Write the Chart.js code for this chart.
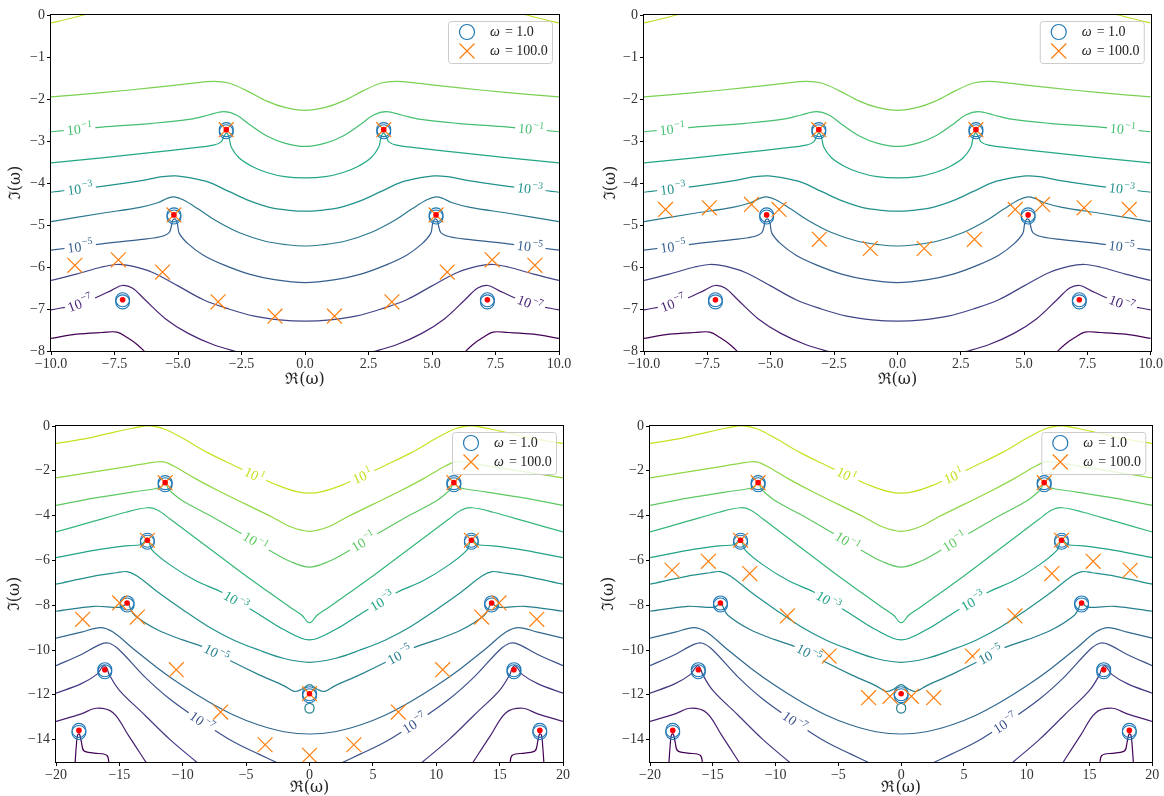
<!DOCTYPE html>
<html>
<head>
<meta charset="utf-8">
<script src="https://cdn.jsdelivr.net/npm/chart.js"></script>
<style>
  body { margin: 0; background: #fff; }
  #fig { position: relative; width: 1164px; height: 796px; }
  canvas { position: absolute; }
</style>
</head>
<body>
<div id="fig">
  <canvas id="p1" width="582" height="400" style="left:0px;top:0px"></canvas>
  <canvas id="p2" width="582" height="400" style="left:582px;top:0px"></canvas>
  <canvas id="p3" width="582" height="396" style="left:0px;top:400px"></canvas>
  <canvas id="p4" width="582" height="396" style="left:582px;top:400px"></canvas>
</div>
<script>
// ---- ticks ----
const narrowXTicks = [-10, -7.5, -5, -2.5, 0, 2.5, 5, 7.5, 10];
const narrowYTicks = [0, -1, -2, -3, -4, -5, -6, -7, -8];
const wideXTicks = [-20, -15, -10, -5, 0, 5, 10, 15, 20];
const wideYTicks = [0, -2, -4, -6, -8, -10, -12, -14];

// ---- contour levels (powers of ten) for the narrow window, Re in [-10, 10] ----
const narrowLevels = [1, 0, -1, -2, -3, -4, -5, -6, -7, -8];
const nE1 = [
  [[-10,-0.19],[-9.3,-0.09],[-8.6,0.02]],
  [[8.6,0.02],[9.3,-0.09],[10,-0.19]]
];
const nE0 = [[[-10,-1.95],[-8,-1.85],[-6,-1.73],[-4.5,-1.63],[-3.6,-1.58],[-3,-1.62],[-2.3,-1.8],[-1.5,-2.05],[-0.8,-2.2],[0,-2.27],[0.8,-2.2],[1.5,-2.05],[2.3,-1.8],[3,-1.62],[3.6,-1.58],[4.5,-1.63],[6,-1.73],[8,-1.85],[10,-1.95]]];
const nEm1 = [[[-10,-2.78],[-8,-2.67],[-6,-2.58],[-4.5,-2.48],[-3.8,-2.38],[-3.2,-2.3],[-2.7,-2.38],[-2.2,-2.6],[-1.5,-2.88],[-0.8,-3.05],[0,-3.13],[0.8,-3.05],[1.5,-2.88],[2.2,-2.6],[2.7,-2.38],[3.2,-2.3],[3.8,-2.38],[4.5,-2.48],[6,-2.58],[8,-2.67],[10,-2.78]]];
const nEm2 = [[[-10,-3.52],[-8,-3.4],[-6,-3.27],[-4.5,-3.17],[-3.6,-3.1],[-3.3,-3.02],[-3.2,-2.9],[-3.12,-2.82],[-3.04,-2.84],[-2.98,-2.95],[-2.9,-3.15],[-2.6,-3.4],[-2.1,-3.6],[-1.5,-3.75],[-0.8,-3.85],[0,-3.88],[0.8,-3.85],[1.5,-3.75],[2.1,-3.6],[2.6,-3.4],[2.9,-3.15],[2.98,-2.95],[3.04,-2.84],[3.12,-2.82],[3.2,-2.9],[3.3,-3.02],[3.6,-3.1],[4.5,-3.17],[6,-3.27],[8,-3.4],[10,-3.52]]];
const nEm3 = [[[-10,-4.22],[-8,-4.08],[-6.5,-3.95],[-5.6,-3.85],[-5.1,-3.83],[-4.5,-3.88],[-3.8,-3.98],[-3,-4.2],[-2.2,-4.42],[-1.4,-4.58],[-0.6,-4.65],[0,-4.67],[0.6,-4.65],[1.4,-4.58],[2.2,-4.42],[3,-4.2],[3.8,-3.98],[4.5,-3.88],[5.1,-3.83],[5.6,-3.85],[6.5,-3.95],[8,-4.08],[10,-4.22]]];
const nEm4 = [[[-10,-4.92],[-8,-4.72],[-6.5,-4.58],[-5.8,-4.47],[-5.4,-4.36],[-5.15,-4.33],[-4.8,-4.4],[-4.2,-4.62],[-3.5,-4.9],[-2.6,-5.18],[-1.6,-5.38],[-0.7,-5.47],[0,-5.5],[0.7,-5.47],[1.6,-5.38],[2.6,-5.18],[3.5,-4.9],[4.2,-4.62],[4.8,-4.4],[5.15,-4.33],[5.4,-4.36],[5.8,-4.47],[6.5,-4.58],[8,-4.72],[10,-4.92]]];
const nEm5 = [[[-10,-5.6],[-8,-5.45],[-6.5,-5.35],[-5.7,-5.28],[-5.35,-5.18],[-5.25,-5.0],[-5.2,-4.88],[-5.1,-4.86],[-5.02,-4.98],[-4.95,-5.2],[-4.6,-5.45],[-4,-5.72],[-3.2,-5.95],[-2.2,-6.17],[-1.2,-6.3],[0,-6.37],[1.2,-6.3],[2.2,-6.17],[3.2,-5.95],[4,-5.72],[4.6,-5.45],[4.95,-5.2],[5.02,-4.98],[5.1,-4.86],[5.2,-4.88],[5.25,-5.0],[5.35,-5.18],[5.7,-5.28],[6.5,-5.35],[8,-5.45],[10,-5.6]]];
const nEm6 = [[[-10,-6.32],[-9,-6.17],[-8,-6.0],[-7.4,-5.94],[-6.8,-5.98],[-6,-6.13],[-5,-6.45],[-4,-6.78],[-3,-7.0],[-2,-7.17],[-1,-7.26],[0,-7.29],[1,-7.26],[2,-7.17],[3,-7.0],[4,-6.78],[5,-6.45],[6,-6.13],[6.8,-5.98],[7.4,-5.94],[8,-6.0],[9,-6.17],[10,-6.32]]];
const nEm7 = [
  [[-10,-7.02],[-9,-6.9],[-8.2,-6.72],[-7.6,-6.55],[-7.2,-6.44],[-6.8,-6.5],[-6.3,-6.78],[-5.5,-7.23],[-4.6,-7.58],[-3.6,-7.85],[-2.5,-8.05]],
  [[2.5,-8.05],[3.6,-7.85],[4.6,-7.58],[5.5,-7.23],[6.3,-6.78],[6.8,-6.5],[7.2,-6.44],[7.6,-6.55],[8.2,-6.72],[9,-6.9],[10,-7.02]]
];
const nEm8 = [
  [[-10,-7.7],[-9,-7.6],[-8,-7.56],[-7.4,-7.55],[-7.0,-7.68],[-6.6,-7.85],[-6.25,-8.05]],
  [[6.25,-8.05],[6.6,-7.85],[7.0,-7.68],[7.4,-7.55],[8,-7.56],[9,-7.6],[10,-7.7]]
];
const narrowLines = [nE1, nE0, nEm1, nEm2, nEm3, nEm4, nEm5, nEm6, nEm7, nEm8];
// inline labels: [x, y, exponent]
const narrowLabelSpots = [[-8.88,-2.7,-1],[8.9,-2.7,-1],[-8.86,-4.11,-3],[8.86,-4.11,-3],[-8.86,-5.47,-5],[8.86,-5.47,-5],[-8.86,-6.85,-7],[8.86,-6.85,-7]];

// ---- contour levels for the wide window, Re in [-20, 20] ----
const wideLevels = [1, 0, -1, -2, -3, -4, -5, -6, -7, -8, -9, -10];
const wE1 = [[[-20,-0.78],[-18,-0.6],[-16,-0.35],[-14,-0.1],[-12.7,0.02],[-11.5,-0.12],[-10,-0.55],[-8,-1.2],[-6,-1.75],[-4.3,-2.2],[-2.5,-2.65],[-1,-2.93],[0,-3.0],[1,-2.93],[2.5,-2.65],[4.3,-2.2],[6,-1.75],[8,-1.2],[10,-0.55],[11.5,-0.12],[12.7,0.02],[14,-0.1],[16,-0.35],[18,-0.6],[20,-0.78]]];
const wE0 = [[[-20,-2.32],[-17,-2.05],[-14,-1.78],[-12.3,-1.62],[-11.5,-1.6],[-10.5,-1.85],[-9,-2.35],[-7,-2.95],[-5,-3.5],[-3,-4.05],[-1.5,-4.5],[0,-4.7],[1.5,-4.5],[3,-4.05],[5,-3.5],[7,-2.95],[9,-2.35],[10.5,-1.85],[11.5,-1.6],[12.3,-1.62],[14,-1.78],[17,-2.05],[20,-2.32]]];
const wEm1 = [[[-20,-3.54],[-17,-3.22],[-14,-2.95],[-12.2,-2.8],[-11.7,-2.72],[-11.55,-2.6],[-11.42,-2.55],[-11.28,-2.62],[-11.15,-2.8],[-10.8,-3.0],[-10,-3.35],[-8,-3.95],[-6,-4.6],[-4.3,-5.15],[-3,-5.6],[-1.5,-6.05],[0,-6.3],[1.5,-6.05],[3,-5.6],[4.3,-5.15],[6,-4.6],[8,-3.95],[10,-3.35],[10.8,-3.0],[11.15,-2.8],[11.28,-2.62],[11.42,-2.55],[11.55,-2.6],[11.7,-2.72],[12.2,-2.8],[14,-2.95],[17,-3.22],[20,-3.54]]];
const wEm2 = [[[-20,-4.73],[-17,-4.25],[-14.5,-3.85],[-12.8,-3.65],[-12,-3.75],[-11,-4.15],[-9,-5.0],[-7,-5.85],[-5,-6.7],[-3,-7.5],[-1.5,-8.1],[-0.6,-8.45],[-0.2,-8.72],[0,-8.78],[0.2,-8.72],[0.6,-8.45],[1.5,-8.1],[3,-7.5],[5,-6.7],[7,-5.85],[9,-5.0],[11,-4.15],[12,-3.75],[12.8,-3.65],[14.5,-3.85],[17,-4.25],[20,-4.73]]];
const wEm3 = [[[-20,-5.88],[-17,-5.55],[-14.5,-5.35],[-13.3,-5.3],[-13.0,-5.15],[-12.9,-5.02],[-12.75,-5.02],[-12.65,-5.2],[-12.4,-5.55],[-11,-6.2],[-9,-6.9],[-7,-7.4],[-5.8,-7.8],[-4,-8.4],[-2,-9.1],[0,-9.55],[2,-9.1],[4,-8.4],[5.8,-7.8],[7,-7.4],[9,-6.9],[11,-6.2],[12.4,-5.55],[12.65,-5.2],[12.75,-5.02],[12.9,-5.02],[13.0,-5.15],[13.3,-5.3],[14.5,-5.35],[17,-5.55],[20,-5.88]]];
const wEm4 = [[[-20,-7.06],[-17,-6.7],[-15.2,-6.55],[-14.4,-6.5],[-13.6,-6.7],[-12,-7.4],[-10,-8.2],[-8,-8.95],[-6,-9.55],[-4,-10.0],[-2,-10.38],[0,-10.55],[2,-10.38],[4,-10.0],[6,-9.55],[8,-8.95],[10,-8.2],[12,-7.4],[13.6,-6.7],[14.4,-6.5],[15.2,-6.55],[17,-6.7],[20,-7.06]]];
const wEm5 = [[[-20,-8.27],[-17,-8.05],[-15,-8.1],[-14.6,-8.0],[-14.45,-7.85],[-14.3,-7.85],[-14.2,-8.05],[-13.8,-8.45],[-12,-9.1],[-10,-9.55],[-8,-9.95],[-6,-10.55],[-4,-11.1],[-2,-11.6],[-1.2,-11.85],[-0.6,-11.75],[0,-11.55],[0.6,-11.75],[1.2,-11.85],[2,-11.6],[4,-11.1],[6,-10.55],[8,-9.95],[10,-9.55],[12,-9.1],[13.8,-8.45],[14.2,-8.05],[14.3,-7.85],[14.45,-7.85],[14.6,-8.0],[15,-8.1],[17,-8.05],[20,-8.27]]];
const wEm6 = [[[-20,-9.47],[-18,-9.2],[-16.5,-9.0],[-15.5,-9.2],[-14,-9.9],[-12,-10.8],[-10,-11.6],[-8,-12.3],[-6,-12.9],[-4,-13.35],[-2,-13.65],[0,-13.75],[2,-13.65],[4,-13.35],[6,-12.9],[8,-12.3],[10,-11.6],[12,-10.8],[14,-9.9],[15.5,-9.2],[16.5,-9.0],[18,-9.2],[20,-9.47]]];
const wEm7 = [
  [[-20,-10.7],[-18,-10.2],[-16.5,-9.75],[-15.8,-9.7],[-15,-10.0],[-13,-11.2],[-11,-12.2],[-8.5,-13.2],[-6,-14.1],[-4,-14.65],[-2.3,-15.1]],
  [[2.3,-15.1],[4,-14.65],[6,-14.1],[8.5,-13.2],[11,-12.2],[13,-11.2],[15,-10.0],[15.8,-9.7],[16.5,-9.75],[18,-10.2],[20,-10.7]]
];
const wEm8 = [
  [[-20,-11.93],[-18,-11.5],[-16.8,-11.1],[-16.4,-10.8],[-16.2,-10.7],[-16.0,-10.8],[-15.8,-11.1],[-15,-11.8],[-13,-12.9],[-11,-14.0],[-8.7,-15.1]],
  [[8.7,-15.1],[11,-14.0],[13,-12.9],[15,-11.8],[15.8,-11.1],[16.0,-10.8],[16.2,-10.7],[16.4,-10.8],[16.8,-11.1],[18,-11.5],[20,-11.93]]
];
const wEm9 = [
  [[-20,-13.19],[-18,-12.85],[-16.8,-12.6],[-15.5,-12.8],[-14.3,-13.8],[-12.8,-15.1]],
  [[12.8,-15.1],[14.3,-13.8],[15.5,-12.8],[16.8,-12.6],[18,-12.85],[20,-13.19]]
];
const wEm10 = [
  [[-18.5,-15.1],[-18.4,-14.3],[-18.3,-13.8],[-18.15,-13.75],[-18.0,-14.1],[-17.8,-14.5],[-17,-14.6],[-16,-14.7],[-15.8,-15.1]],
  [[15.8,-15.1],[16,-14.7],[17,-14.6],[17.8,-14.5],[18.0,-14.1],[18.15,-13.75],[18.3,-13.8],[18.4,-14.3],[18.5,-15.1]]
];
// small closed loop below the centre root
const wLoop = [[[0,-12.38],[0.28,-12.45],[0.36,-12.6],[0.28,-12.75],[0,-12.82],[-0.28,-12.75],[-0.36,-12.6],[-0.28,-12.45],[0,-12.38]]];
const wideLines = [wE1, wE0, wEm1, wEm2, wEm3, wEm4, wEm5.concat(wLoop), wEm6, wEm7, wEm8, wEm9, wEm10];
const wideLabelSpots = [[-4.3,-2.12,1],[4.1,-2.13,1],[-4.3,-5.17,-1],[4.3,-5.2,-1],[-5.8,-7.8,-3],[5.7,-7.8,-3],[-7.4,-10.2,-5],[7.2,-10.3,-5],[-8.5,-13.2,-7],[8.2,-13.2,-7]];

// ---- marked roots ----
const narrowPoles = [[-3.1,-2.73],[3.1,-2.73],[-5.16,-4.76],[5.16,-4.76],[-7.18,-6.78],[7.18,-6.78]];
// omega = 1.0 roots come in close pairs
const narrowOmega1 = [[-3.1,-2.73],[3.1,-2.73],[-5.16,-4.76],[5.16,-4.76],[-7.18,-6.78],[7.18,-6.78],
                      [-3.1,-2.78],[3.1,-2.78],[-5.16,-4.81],[5.16,-4.81],[-7.18,-6.83],[7.18,-6.83]];
const topLeftOmega100 = [[-9.06,-5.96],[-7.35,-5.83],[-5.61,-6.12],[-3.42,-6.83],[-1.18,-7.17],[1.16,-7.17],[3.42,-6.83],[5.6,-6.12],[7.37,-5.83],[9.05,-5.96],[-3.1,-2.73],[3.1,-2.73],[-5.16,-4.76],[5.16,-4.76]];
const topRightOmega100 = [[-9.15,-4.63],[-7.42,-4.59],[-5.76,-4.51],[-4.67,-4.63],[-3.08,-5.34],[-1.07,-5.56],[1.06,-5.56],[3.04,-5.34],[4.65,-4.63],[5.73,-4.51],[7.37,-4.59],[9.15,-4.63],[-3.1,-2.73],[3.1,-2.73]];

const widePoles = [[-11.39,-2.53],[11.39,-2.53],[-12.79,-5.1],[12.77,-5.1],[-14.39,-7.9],[14.37,-7.9],[-16.15,-10.88],[16.13,-10.88],[-18.19,-13.59],[18.17,-13.59],[0,-11.95]];
const wideOmega1 = [[-11.39,-2.53],[11.39,-2.53],[-12.79,-5.1],[12.77,-5.1],[-14.39,-7.9],[14.37,-7.9],[-16.15,-10.88],[16.13,-10.88],[-18.19,-13.59],[18.17,-13.59],[0,-11.95],
                    [-11.39,-2.62],[11.39,-2.62],[-12.79,-5.19],[12.77,-5.19],[-14.39,-7.99],[14.37,-7.99],[-16.15,-10.97],[16.13,-10.97],[-18.19,-13.68],[18.17,-13.68],[0,-12.04]];
const bottomLeftOmega100 = [[-17.9,-8.63],[-14.98,-7.9],[-13.58,-8.53],[-10.51,-10.88],[-7.01,-12.77],[-3.5,-14.23],[0,-14.7],[3.5,-14.23],[7.01,-12.77],[10.51,-10.88],[13.58,-8.53],[14.95,-7.9],[17.93,-8.63],[-11.39,-2.53],[11.39,-2.53],[-12.79,-5.1],[12.77,-5.1],[0,-11.95]];
const bottomRightOmega100 = [[-18.24,-6.44],[-15.35,-6.04],[-12.06,-6.59],[-9.06,-8.48],[-5.74,-10.27],[-2.59,-12.13],[-0.88,-12.07],[0.82,-12.07],[2.59,-12.13],[5.68,-10.27],[9.06,-8.48],[12.0,-6.59],[15.29,-6.04],[18.24,-6.44],[-11.39,-2.53],[11.39,-2.53],[-12.79,-5.1],[12.77,-5.1]];

// viridis samples for each contour level
const narrowColors = ['#bddf26','#7ad151','#44bf70','#22a884','#21918c','#2a788e','#355f8d','#414487','#482475','#440154'];
const wideColors = ['#c8e020','#8fd744','#5ec962','#35b779','#20a386','#21918c','#277f8e','#31688e','#3b528b','#453781','#481f70','#440154'];

const SERIF = "'Liberation Serif', 'DejaVu Serif', serif";
const MINUS = '\u2212';

const fmt = (v, dec) => (dec ? v.toFixed(dec) : String(v)).replace('-', MINUS);

// one dataset per contour polyline
const contourSets = (lines, colors) => {
  var sets = [];
  lines.forEach((segs, i) => {
    segs.forEach(seg => {
      sets.push({
        data: seg.map(p => ({x: p[0], y: p[1]})),
        showLine: true,
        borderColor: colors[i],
        borderWidth: 1.2,
        pointRadius: 0,
        tension: 0.35,
        order: 5
      });
    });
  });
  return sets;
}

// nearest point on a level's polylines, in pixels, with the local direction
const snapToLine = (chart, segs, x, y) => {
  const sx = chart.scales.x, sy = chart.scales.y;
  const px = sx.getPixelForValue(x), py = sy.getPixelForValue(y);
  var best = {d: Infinity};
  segs.forEach(seg => {
    for (var i = 0; i < seg.length - 1; i++) {
      const ax = sx.getPixelForValue(seg[i][0]), ay = sy.getPixelForValue(seg[i][1]);
      const bx = sx.getPixelForValue(seg[i+1][0]), by = sy.getPixelForValue(seg[i+1][1]);
      const dx = bx - ax, dy = by - ay;
      var t = ((px - ax) * dx + (py - ay) * dy) / (dx * dx + dy * dy);
      t = Math.max(0, Math.min(1, t));
      const qx = ax + t * dx, qy = ay + t * dy;
      const d = Math.hypot(px - qx, py - qy);
      if (d < best.d) {
        var ang = Math.atan2(dy, dx);
        if (ang > Math.PI / 2) ang -= Math.PI;
        if (ang < -Math.PI / 2) ang += Math.PI;
        best = {d: d, x: qx, y: qy, a: ang};
      }
    }
  });
  return best;
}

const drawContourLabels = (chart, panel) => {
  const ctx = chart.ctx;
  panel.labels.forEach(spot => {
    const idx = panel.levels.indexOf(spot[2]);
    const pos = snapToLine(chart, panel.lines[idx], spot[0], spot[1]);
    const exp = fmt(spot[2], 0);
    ctx.save();
    ctx.font = '14px ' + SERIF;
    const wBase = ctx.measureText('10').width;
    ctx.font = '10px ' + SERIF;
    const wExp = ctx.measureText(exp).width;
    const w = wBase + wExp + 1;
    ctx.translate(pos.x, pos.y);
    ctx.rotate(pos.a);
    ctx.fillStyle = '#ffffff';
    ctx.fillRect(-w / 2 - 3, -5, w + 6, 10);
    ctx.fillStyle = panel.colors[idx];
    ctx.textBaseline = 'middle';
    ctx.font = '14px ' + SERIF;
    ctx.fillText('10', -w / 2, 1);
    ctx.font = '10px ' + SERIF;
    ctx.fillText(exp, -w / 2 + wBase + 1, -4);
    ctx.restore();
  });
}

const drawLegend = (chart) => {
  const ctx = chart.ctx, area = chart.chartArea;
  const w = 104, h = 42;
  const x0 = area.right - 7 - w, y0 = area.top + 6;
  ctx.save();
  ctx.beginPath();
  ctx.roundRect(x0 + 0.5, y0 + 0.5, w, h, 3);
  ctx.fillStyle = 'rgba(255,255,255,0.8)';
  ctx.fill();
  ctx.strokeStyle = '#cccccc';
  ctx.lineWidth = 1;
  ctx.stroke();

  ctx.lineWidth = 1.2;
  ctx.strokeStyle = '#1f77b4';
  ctx.beginPath();
  ctx.arc(x0 + 19, y0 + 11, 7.5, 0, Math.PI * 2);
  ctx.stroke();

  const cx = x0 + 19, cy = y0 + 30, r = 7.5;
  ctx.strokeStyle = '#ff7f0e';
  ctx.beginPath();
  ctx.moveTo(cx - r, cy - r); ctx.lineTo(cx + r, cy + r);
  ctx.moveTo(cx - r, cy + r); ctx.lineTo(cx + r, cy - r);
  ctx.stroke();

  const entries = [['= 1.0', y0 + 11], ['= 100.0', y0 + 30]];
  ctx.fillStyle = '#222';
  ctx.textBaseline = 'middle';
  entries.forEach(e => {
    ctx.font = 'italic 14px ' + SERIF;
    ctx.fillText('\u03c9', x0 + 42, e[1]);
    const wo = ctx.measureText('\u03c9').width;
    ctx.font = '14px ' + SERIF;
    ctx.fillText(e[0], x0 + 42 + wo + 5, e[1]);
  });
  ctx.restore();
}

const framePlugin = (panel) => ({
  id: 'frame' + panel.id,
  afterDatasetsDraw(chart) {
    drawContourLabels(chart, panel);
    drawLegend(chart);
  },
  afterDraw(chart) {
    const a = chart.chartArea, ctx = chart.ctx;
    ctx.save();
    ctx.strokeStyle = '#000';
    ctx.lineWidth = 1;
    ctx.strokeRect(Math.round(a.left) - 0.5, Math.round(a.top) - 0.5, Math.round(a.right - a.left) + 1, Math.round(a.bottom - a.top) + 1);
    ctx.restore();
  }
});

const panels = [
  {id: 'p1', lines: narrowLines, levels: narrowLevels, colors: narrowColors, labels: narrowLabelSpots,
   poles: narrowPoles, circles: narrowOmega1, crosses: topLeftOmega100,
   xr: [-10, 10], yr: [-8, 0], xt: narrowXTicks, yt: narrowYTicks, dec: 1,
   yw: 51, xh: 49, padR: 23, padT: 15, yTitlePad: 8, xTitlePad: 12.5},
  {id: 'p2', lines: narrowLines, levels: narrowLevels, colors: narrowColors, labels: narrowLabelSpots,
   poles: narrowPoles, circles: narrowOmega1, crosses: topRightOmega100,
   xr: [-10, 10], yr: [-8, 0], xt: narrowXTicks, yt: narrowYTicks, dec: 1,
   yw: 62, xh: 49, padR: 12, padT: 15, yTitlePad: 21, xTitlePad: 12.5},
  {id: 'p3', lines: wideLines, levels: wideLevels, colors: wideColors, labels: wideLabelSpots,
   poles: widePoles, circles: wideOmega1, crosses: bottomLeftOmega100,
   xr: [-20, 20], yr: [-15, 0], xt: wideXTicks, yt: wideYTicks, dec: 0,
   yw: 56, xh: 34, padR: 19, padT: 26, yTitlePad: 6.5, xTitlePad: 0},
  {id: 'p4', lines: wideLines, levels: wideLevels, colors: wideColors, labels: wideLabelSpots,
   poles: widePoles, circles: wideOmega1, crosses: bottomRightOmega100,
   xr: [-20, 20], yr: [-15, 0], xt: wideXTicks, yt: wideYTicks, dec: 0,
   yw: 68, xh: 34, padR: 7, padT: 26, yTitlePad: 19, xTitlePad: 0}
];

const toPts = arr => arr.map(p => ({x: p[0], y: p[1]}));

panels.forEach(panel => {
  const datasets = [
    {label: 'poles', data: toPts(panel.poles), pointStyle: 'circle', pointRadius: 2.8,
     backgroundColor: '#ff0000', borderColor: '#ff0000', borderWidth: 0, order: 0},
    {label: '\u03c9 = 100.0', data: toPts(panel.crosses), pointStyle: 'crossRot', pointRadius: 10.5,
     borderColor: '#ff7f0e', borderWidth: 1.2, order: 1},
    {label: '\u03c9 = 1.0', data: toPts(panel.circles), pointStyle: 'circle', pointRadius: 7,
     backgroundColor: 'rgba(0,0,0,0)', borderColor: '#1f77b4', borderWidth: 1.1, order: 2}
  ].concat(contourSets(panel.lines, panel.colors));

  const tickFont = {family: SERIF, size: 14};
  new Chart(document.getElementById(panel.id), {
    type: 'scatter',
    data: {datasets: datasets},
    plugins: [framePlugin(panel)],
    options: {
      responsive: false,
      animation: false,
      events: [],
      layout: {padding: {left: 0, right: panel.padR, top: panel.padT, bottom: 0}},
      plugins: {legend: {display: false}, tooltip: {enabled: false}},
      scales: {
        x: {
          type: 'linear', min: panel.xr[0], max: panel.xr[1],
          afterBuildTicks: s => { s.ticks = panel.xt.map(v => ({value: v})); },
          afterFit: s => { s.height = panel.xh; },
          ticks: {font: tickFont, color: '#333', padding: 1, maxRotation: 0, autoSkip: false,
                  callback: v => fmt(v, panel.dec)},
          grid: {drawOnChartArea: false, drawTicks: true, tickLength: 4, tickColor: '#000'},
          border: {display: false},
          title: {display: true, text: '\u211c(\u03c9)', color: '#222',
                  font: {family: "'DejaVu Serif', serif", size: 16, lineHeight: 1},
                  padding: {top: 0, bottom: panel.xTitlePad}}
        },
        y: {
          type: 'linear', min: panel.yr[0], max: panel.yr[1],
          afterBuildTicks: s => { s.ticks = panel.yt.map(v => ({value: v})); },
          afterFit: s => { s.width = panel.yw; },
          ticks: {font: tickFont, color: '#333', padding: 2, autoSkip: false,
                  callback: v => fmt(v, 0)},
          grid: {drawOnChartArea: false, drawTicks: true, tickLength: 4, tickColor: '#000'},
          border: {display: false},
          title: {display: true, text: '\u2111(\u03c9)', color: '#222',
                  font: {family: "'DejaVu Serif', serif", size: 16, lineHeight: 1},
                  padding: {top: panel.yTitlePad, bottom: 0}}
        }
      }
    }
  });
});
</script>
</body>
</html>
